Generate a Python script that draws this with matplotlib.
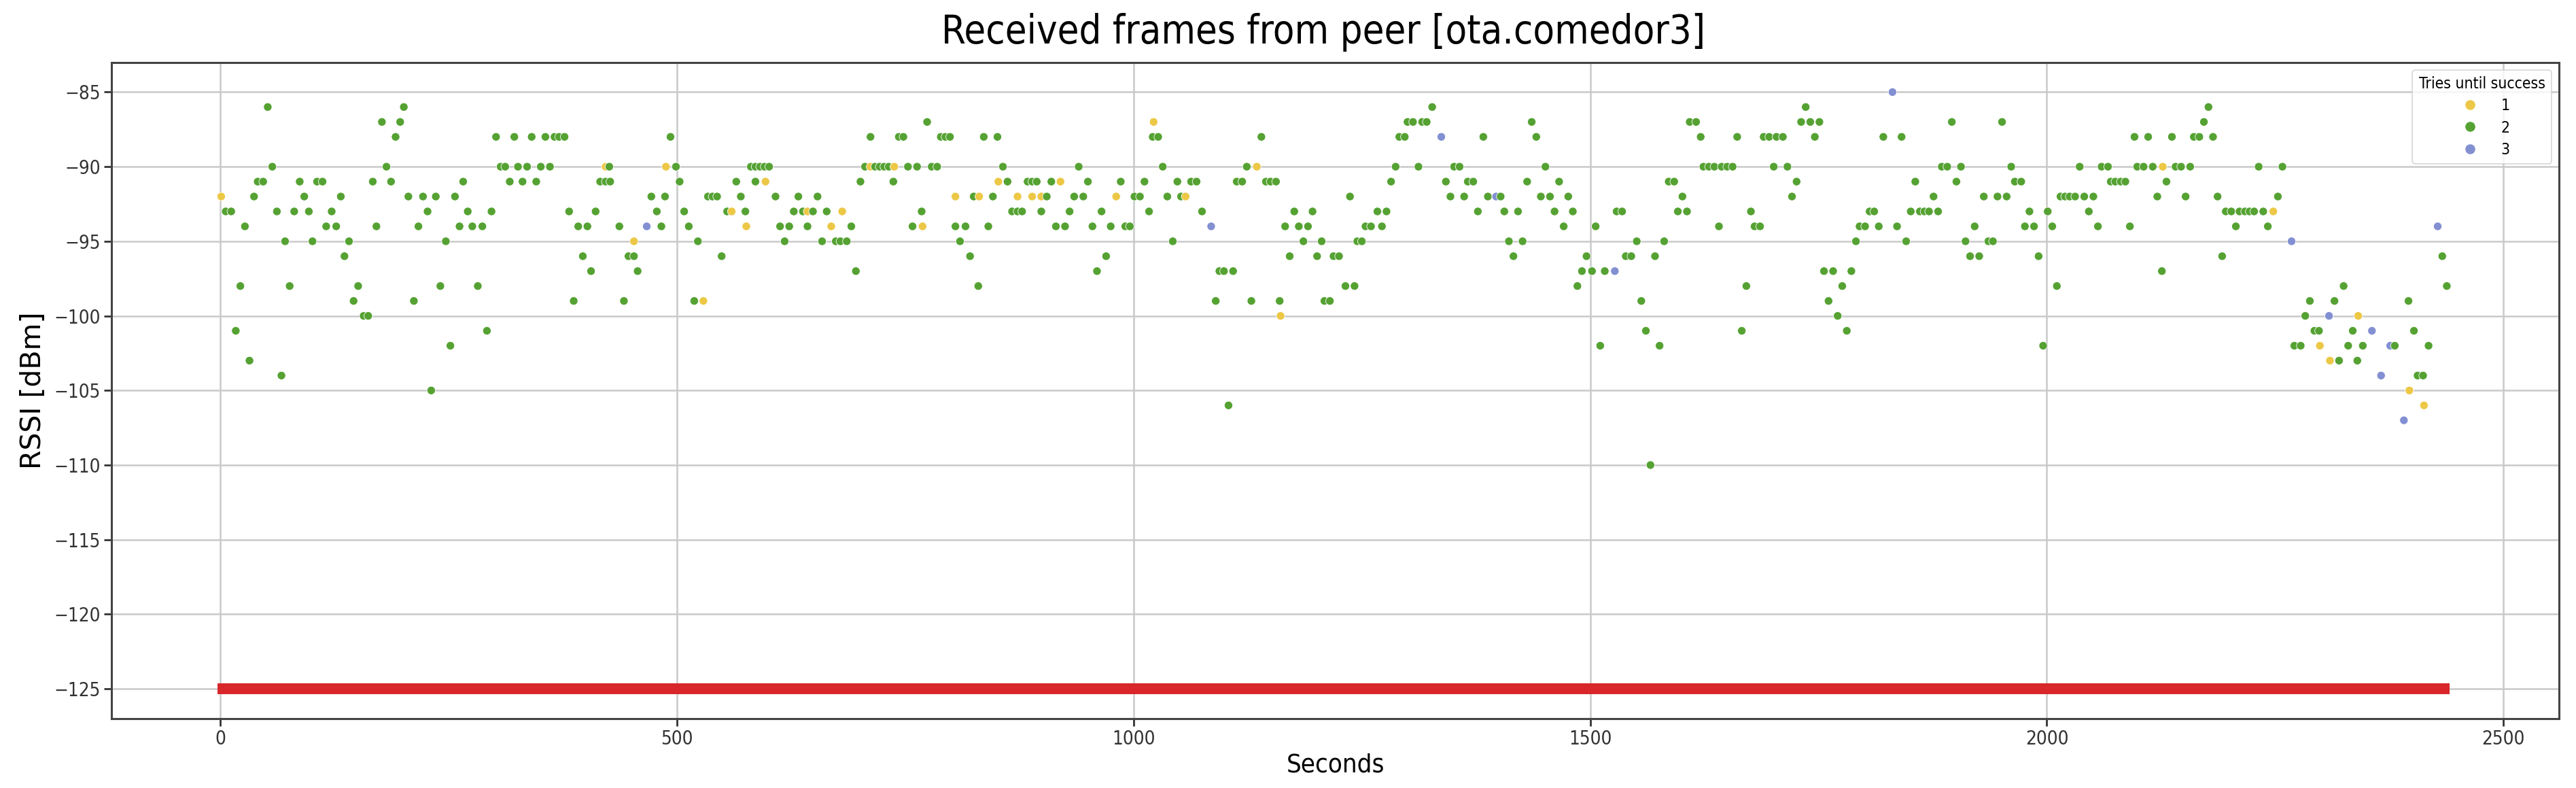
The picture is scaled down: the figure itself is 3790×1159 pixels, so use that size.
import matplotlib
matplotlib.use("Agg")
import matplotlib.pyplot as plt
from matplotlib.lines import Line2D
from matplotlib import font_manager

# ---- data (seconds, RSSI dBm, tries until success) ----
seconds = [
    1, 6, 12, 17, 22, 27, 32, 37, 41, 47, 52, 57, 62, 67, 71, 76, 81, 87, 92, 97,
    101, 106, 112, 116, 122, 127, 132, 136, 141, 146, 151, 157, 162, 167, 171, 177, 182, 187, 192, 197,
    201, 206, 212, 217, 222, 227, 231, 236, 241, 247, 252, 257, 262, 266, 271, 276, 282, 287, 292, 297,
    302, 307, 312, 317, 322, 326, 331, 336, 341, 346,
    351, 356, 361, 366, 371, 377, 382, 387, 392, 397, 402, 406, 411, 416, 422, 427, 422, 426, 437, 442,
    447, 453, 453, 457, 467, 472, 478, 483, 487, 488, 493, 499, 503, 508, 513, 519, 523, 529, 534, 539,
    544, 549, 555, 560, 565, 570, 575, 576, 581, 586, 591, 596, 601, 586, 597, 608, 613, 618, 623, 628,
    633, 638, 643, 643, 649, 654, 659, 664, 669, 674, 679, 681, 686, 691, 696, 701,
    706, 712, 712, 717, 722, 727, 732, 737, 738, 743, 748, 753, 758, 763, 768, 769, 774, 779, 785, 789,
    794, 799, 805, 805, 810, 816, 821, 825, 830, 831, 836, 841, 846, 851, 852, 857, 862, 867, 873, 873,
    878, 884, 889, 889, 894, 899, 899, 905, 910, 915, 920, 925, 930, 935, 940, 945, 950, 955, 960, 965,
    970, 975, 981, 986, 991, 996, 1001, 1007, 1012, 1017, 1021, 1022, 1027, 1032, 1037, 1043, 1048, 1052, 1057,
    1063, 1069, 1075, 1085, 1090, 1094, 1099, 1104, 1109, 1113, 1119, 1124, 1129, 1135, 1140, 1145, 1150, 1156, 1160, 1161,
    1166, 1171, 1176, 1181, 1186, 1191, 1196, 1201, 1206, 1209, 1215, 1219, 1225, 1232, 1237, 1242, 1245, 1250, 1254, 1260,
    1267, 1272, 1277, 1282, 1287, 1291, 1297, 1300, 1306, 1312, 1316, 1321, 1327, 1337, 1342, 1347, 1351, 1357, 1362, 1366,
    1372, 1377, 1383, 1388, 1397, 1402,
    1406, 1411, 1416, 1421, 1426, 1431, 1436, 1441, 1446, 1451, 1456, 1461, 1466, 1471, 1476, 1481, 1486, 1491, 1496, 1502,
    1506, 1511, 1516, 1527, 1529, 1535, 1539, 1545, 1551, 1556, 1561, 1566, 1571, 1576, 1581, 1586, 1592, 1596, 1601, 1606,
    1609, 1616, 1621, 1624, 1630, 1636, 1641, 1644, 1650, 1656, 1661, 1666, 1671, 1676, 1680, 1686, 1690, 1696, 1701, 1704,
    1711, 1716, 1721, 1726, 1731, 1736, 1741, 1746, 1751, 1756, 1761, 1766, 1771,
    1776, 1781, 1786, 1791, 1795, 1801, 1806, 1811, 1816, 1821, 1831, 1836, 1841, 1846, 1851, 1856, 1861, 1866, 1871, 1876,
    1881, 1885, 1891, 1896, 1901, 1906, 1911, 1916, 1921, 1926, 1931, 1936, 1941, 1946, 1951, 1956, 1961, 1965, 1972, 1976,
    1981, 1986, 1991, 1996, 2001, 2006, 2011, 2015, 2020, 2025, 2031, 2036, 2041, 2046, 2051, 2056, 2060, 2067, 2070, 2075,
    2081, 2086, 2091, 2096, 2099, 2106, 2111, 2116, 2121, 2126, 2127, 2131,
    2137, 2141, 2147, 2152, 2157, 2161, 2167, 2172, 2177, 2182, 2187, 2192, 2196, 2202, 2207, 2211, 2217, 2222, 2227, 2232,
    2237, 2242, 2248, 2253, 2258, 2268, 2271, 2278, 2283, 2288, 2293, 2298, 2299, 2309, 2310, 2315, 2320, 2325, 2330, 2335,
    2340, 2341, 2346, 2356, 2366, 2376, 2381, 2391, 2396, 2397, 2402, 2406, 2412, 2413, 2418, 2428, 2433, 2438,
]

rssi = [
    -92, -93, -93, -101, -98, -94, -103, -92, -91, -91, -86, -90, -93, -104, -95, -98, -93, -91, -92, -93,
    -95, -91, -91, -94, -93, -94, -92, -96, -95, -99, -98, -100, -100, -91, -94, -87, -90, -91, -88, -87,
    -86, -92, -99, -94, -92, -93, -105, -92, -98, -95, -102, -92, -94, -91, -93, -94, -98, -94, -101, -93,
    -88, -90, -90, -91, -88, -90, -91, -90, -88, -91,
    -90, -88, -90, -88, -88, -88, -93, -99, -94, -96, -94, -97, -93, -91, -91, -91, -90, -90, -94, -99,
    -96, -96, -95, -97, -94, -92, -93, -94, -92, -90, -88, -90, -91, -93, -94, -99, -95, -99, -92, -92,
    -92, -96, -93, -93, -91, -92, -93, -94, -90, -90, -90, -90, -90, -91, -91, -92, -94, -95, -94, -93,
    -92, -93, -93, -94, -93, -92, -95, -93, -94, -95, -95, -93, -95, -94, -97, -91,
    -90, -88, -90, -90, -90, -90, -90, -91, -90, -88, -88, -90, -94, -90, -93, -94, -87, -90, -90, -88,
    -88, -88, -92, -94, -95, -94, -96, -92, -98, -92, -88, -94, -92, -88, -91, -90, -91, -93, -93, -92,
    -93, -91, -91, -92, -91, -92, -93, -92, -91, -94, -91, -94, -93, -92, -90, -92, -91, -94, -97, -93,
    -96, -94, -92, -91, -94, -94, -92, -92, -91, -93, -88, -87, -88, -90, -92, -95, -91, -92, -92,
    -91, -91, -93, -94, -99, -97, -97, -106, -97, -91, -91, -90, -99, -90, -88, -91, -91, -91, -99, -100,
    -94, -96, -93, -94, -95, -94, -93, -96, -95, -99, -99, -96, -96, -98, -92, -98, -95, -95, -94, -94,
    -93, -94, -93, -91, -90, -88, -88, -87, -87, -90, -87, -87, -86, -88, -91, -92, -90, -90, -92, -91,
    -91, -93, -88, -92, -92, -92,
    -93, -95, -96, -93, -95, -91, -87, -88, -92, -90, -92, -93, -91, -94, -92, -93, -98, -97, -96, -97,
    -94, -102, -97, -97, -93, -93, -96, -96, -95, -99, -101, -110, -96, -102, -95, -91, -91, -93, -92, -93,
    -87, -87, -88, -90, -90, -90, -94, -90, -90, -90, -88, -101, -98, -93, -94, -94, -88, -88, -90, -88,
    -88, -90, -92, -91, -87, -86, -87, -88, -87, -97, -99, -97, -100,
    -98, -101, -97, -95, -94, -94, -93, -93, -94, -88, -85, -94, -88, -95, -93, -91, -93, -93, -93, -92,
    -93, -90, -90, -87, -91, -90, -95, -96, -94, -96, -92, -95, -95, -92, -87, -92, -90, -91, -91, -94,
    -93, -94, -96, -102, -93, -94, -98, -92, -92, -92, -92, -90, -92, -93, -92, -94, -90, -90, -91, -91,
    -91, -91, -94, -88, -90, -90, -88, -90, -92, -97, -90, -91,
    -88, -90, -90, -92, -90, -88, -88, -87, -86, -88, -92, -96, -93, -93, -94, -93, -93, -93, -93, -90,
    -93, -94, -93, -92, -90, -95, -102, -102, -100, -99, -101, -101, -102, -100, -103, -99, -103, -98, -102, -101,
    -103, -100, -102, -101, -104, -102, -102, -107, -99, -105, -101, -104, -104, -106, -102, -94, -96, -98,
]

tries = [
    1, 2, 2, 2, 2, 2, 2, 2, 2, 2, 2, 2, 2, 2, 2, 2, 2, 2, 2, 2,
    2, 2, 2, 2, 2, 2, 2, 2, 2, 2, 2, 2, 2, 2, 2, 2, 2, 2, 2, 2,
    2, 2, 2, 2, 2, 2, 2, 2, 2, 2, 2, 2, 2, 2, 2, 2, 2, 2, 2, 2,
    2, 2, 2, 2, 2, 2, 2, 2, 2, 2,
    2, 2, 2, 2, 2, 2, 2, 2, 2, 2, 2, 2, 2, 2, 2, 2, 1, 2, 2, 2,
    2, 2, 1, 2, 3, 2, 2, 2, 2, 1, 2, 2, 2, 2, 2, 2, 2, 1, 2, 2,
    2, 2, 2, 1, 2, 2, 2, 1, 2, 2, 2, 2, 2, 2, 1, 2, 2, 2, 2, 2,
    2, 2, 1, 2, 2, 2, 2, 2, 1, 2, 2, 1, 2, 2, 2, 2,
    2, 2, 1, 2, 2, 2, 2, 2, 1, 2, 2, 2, 2, 2, 2, 1, 2, 2, 2, 2,
    2, 2, 1, 2, 2, 2, 2, 2, 2, 1, 2, 2, 2, 2, 1, 2, 2, 2, 2, 1,
    2, 2, 2, 1, 2, 1, 2, 2, 2, 2, 1, 2, 2, 2, 2, 2, 2, 2, 2, 2,
    2, 2, 1, 2, 2, 2, 2, 2, 2, 2, 2, 1, 2, 2, 2, 2, 2, 2, 1,
    2, 2, 2, 3, 2, 2, 2, 2, 2, 2, 2, 2, 2, 1, 2, 2, 2, 2, 2, 1,
    2, 2, 2, 2, 2, 2, 2, 2, 2, 2, 2, 2, 2, 2, 2, 2, 2, 2, 2, 2,
    2, 2, 2, 2, 2, 2, 2, 2, 2, 2, 2, 2, 2, 3, 2, 2, 2, 2, 2, 2,
    2, 2, 2, 2, 3, 2,
    2, 2, 2, 2, 2, 2, 2, 2, 2, 2, 2, 2, 2, 2, 2, 2, 2, 2, 2, 2,
    2, 2, 2, 3, 2, 2, 2, 2, 2, 2, 2, 2, 2, 2, 2, 2, 2, 2, 2, 2,
    2, 2, 2, 2, 2, 2, 2, 2, 2, 2, 2, 2, 2, 2, 2, 2, 2, 2, 2, 2,
    2, 2, 2, 2, 2, 2, 2, 2, 2, 2, 2, 2, 2,
    2, 2, 2, 2, 2, 2, 2, 2, 2, 2, 3, 2, 2, 2, 2, 2, 2, 2, 2, 2,
    2, 2, 2, 2, 2, 2, 2, 2, 2, 2, 2, 2, 2, 2, 2, 2, 2, 2, 2, 2,
    2, 2, 2, 2, 2, 2, 2, 2, 2, 2, 2, 2, 2, 2, 2, 2, 2, 2, 2, 2,
    2, 2, 2, 2, 2, 2, 2, 2, 2, 2, 1, 2,
    2, 2, 2, 2, 2, 2, 2, 2, 2, 2, 2, 2, 2, 2, 2, 2, 2, 2, 2, 2,
    2, 2, 1, 2, 2, 3, 2, 2, 2, 2, 2, 2, 1, 3, 1, 2, 2, 2, 2, 2,
    2, 1, 2, 3, 3, 3, 2, 3, 2, 1, 2, 2, 2, 1, 2, 3, 2, 2,
]

# Lost frames floor line
lost_seconds = [-3, 2441]
lost_rssi = [-125, -125]

tries_levels = [1, 2, 3]
tries_colors = ["#ECC846", "#55A233", "#8290D2"]

title = "Received frames from peer [ota.comedor3]"
xlabel = "Seconds"
ylabel = "RSSI [dBm]"
legend_title = "Tries until success"

# ---- fonts: condensed face (reference text is narrow) if available ----
plt.rcParams["font.family"] = ["DejaVu Sans"]
cond_props = font_manager.FontProperties(family="DejaVu Sans", stretch="condensed")
cond_file = font_manager.findfont(cond_props, fallback_to_default=True)
has_condensed = "Condensed" in cond_file
if has_condensed:
    stretch = "condensed"
    title_size, xlabel_size, tick_size, leg_size = 41.5, 27.5, 20, 16.5
else:
    stretch = "normal"
    title_size, xlabel_size, tick_size, leg_size = 37.5, 25, 18, 15
ylabel_size = 29.5

# ---- figure ----
fig = plt.figure(figsize=(37.91, 11.59), dpi=100)
ax = fig.add_axes([0.0433, 0.088, 0.9499, 0.833])

ax.grid(True, color="#c9c9c9", linewidth=1.8, zorder=0)
ax.set_axisbelow(True)

ax.plot(lost_seconds, lost_rssi, color="#d8262a", linewidth=11.5,
        solid_capstyle="butt", zorder=2)

cmap = dict(zip(tries_levels, tries_colors))
point_colors = [cmap[t] for t in tries]
ax.scatter(seconds, rssi, c=point_colors, s=78, edgecolors="white",
           linewidths=0.6, zorder=3)

ax.set_xlim(-119, 2561)
ax.set_ylim(-127, -83)

ax.set_title(title, pad=20, x=0.495, fontsize=title_size, fontstretch=stretch)
ax.set_xlabel(xlabel, fontsize=xlabel_size, fontstretch=stretch, labelpad=5)
ax.set_ylabel(ylabel, fontsize=ylabel_size, labelpad=8)

ax.set_xticks([0, 500, 1000, 1500, 2000, 2500])
ax.set_yticks([-85, -90, -95, -100, -105, -110, -115, -120, -125])
ax.tick_params(axis="both", labelsize=tick_size, length=8, width=2,
               colors="#333333", labelcolor="#333333")
for lab in ax.get_xticklabels() + ax.get_yticklabels():
    lab.set_fontstretch(stretch)
for sp in ax.spines.values():
    sp.set_linewidth(2.2)
    sp.set_color("#444444")

handles = [Line2D([0], [0], marker="o", linestyle="", markersize=11,
                  markerfacecolor=c, markeredgecolor="white", markeredgewidth=0.5)
           for c in tries_colors]
leg_font = font_manager.FontProperties(family="DejaVu Sans", stretch=stretch, size=leg_size)
leg = ax.legend(handles, [str(t) for t in tries_levels], title=legend_title,
                loc="upper right", prop=leg_font, title_fontproperties=leg_font,
                frameon=True, framealpha=0.8, handletextpad=1.0, labelspacing=0.4)
leg.get_frame().set_linewidth(1.2)

fig.savefig("out.png", dpi=100)
